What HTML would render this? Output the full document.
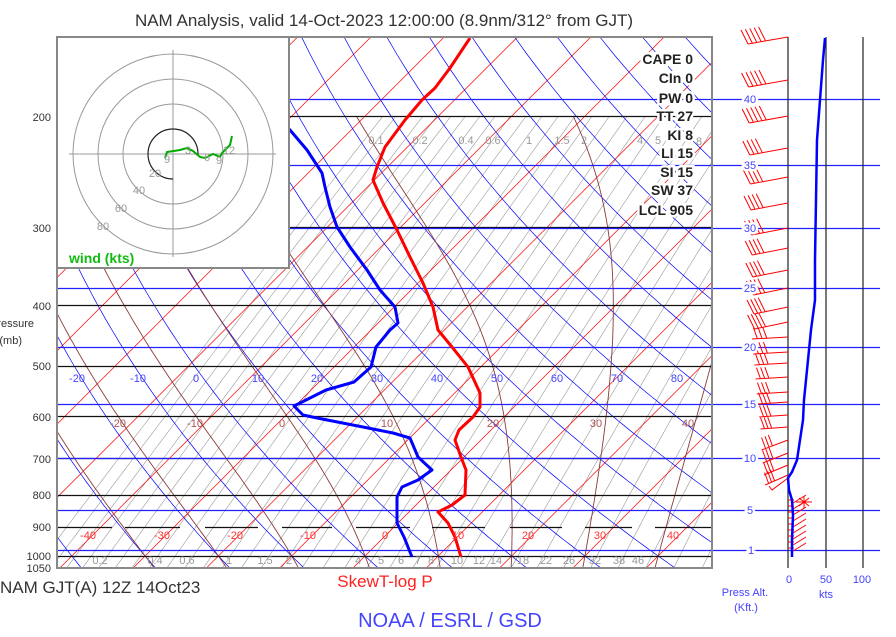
<!DOCTYPE html>
<html><head><meta charset="utf-8"><style>
html,body{margin:0;padding:0;background:#fff;}
svg{display:block;font-family:"Liberation Sans",Arial,sans-serif;}
.ax{font-size:11px;fill:#333;text-anchor:end;}
.idx{font-size:14px;font-weight:bold;fill:#222;text-anchor:end;paint-order:stroke;stroke:#fff;stroke-width:5px;}
.blab{font-size:11px;fill:#44f;text-anchor:middle;}
.rlab{font-size:11px;fill:#f33;text-anchor:middle;}
.mlab{font-size:11px;fill:#a55;text-anchor:middle;}
.glab{font-size:11px;fill:#999;text-anchor:middle;}
.alt{font-size:11px;fill:#44f;text-anchor:middle;paint-order:stroke;stroke:#fff;stroke-width:5px;}
</style></head><body>
<svg id="s" width="896" height="637" viewBox="0 0 896 637" xmlns="http://www.w3.org/2000/svg">
<defs><clipPath id="cp"><rect x="57" y="37" width="655" height="531"/></clipPath></defs>
<rect width="896" height="637" fill="#fff"/>
<g id="bg" clip-path="url(#cp)"></g>
<g id="hl"></g>
<polyline fill="none" stroke="#f00" stroke-width="3" stroke-linejoin="round" points="470,38 450,68 435,88 422,100 405,120 385,147 377,167 373,180 383,203 397,230 410,257 423,283 433,307 438,330 452,347 468,367 480,393 480,407 473,417 459,430 455,440 461,457 466,470 465,495 452,505 438,512 448,523 455,537 461,557"/>
<polyline fill="none" stroke="#00f" stroke-width="3" stroke-linejoin="round" points="277,38 280,67 283,83 278,107 278,117 290,130 307,150 322,173 325,187 330,207 337,227 350,247 367,270 380,290 395,307 398,323 390,330 376,347 371,367 354,382 326,390 294,406 303,415 317,418 363,427 393,433 410,438 418,457 432,470 418,480 402,487 397,497 397,523 404,537 412,557"/>
<rect x="57" y="37" width="232" height="231" fill="#fff" stroke="#888" stroke-width="2"/>
<g fill="none" stroke="#999" stroke-width="1">
<circle cx="173" cy="154" r="50"/><circle cx="173" cy="154" r="75"/><circle cx="173" cy="154" r="100"/>
<line x1="69" y1="154" x2="276" y2="154"/><line x1="173" y1="50" x2="173" y2="257"/>
</g>
<path d="M198,154 A25,25 0 1 0 173,179" fill="none" stroke="#222" stroke-width="1.2"/>
<text x="155" y="177" class="glab" font-size="13">20</text>
<text x="139" y="194" class="glab" font-size="13">40</text>
<text x="121" y="212" class="glab" font-size="13">60</text>
<text x="103" y="230" class="glab" font-size="13">80</text>
<polyline fill="none" stroke="#0a0" stroke-width="2" points="165,158 167,152 180,150 187,148 193,151 200,157 205,158 213,154 220,157 222,153 230,145 232,136"/>
<text x="167" y="163" class="glab" font-size="14">9</text>
<text x="188" y="154" class="glab" font-size="14">3</text>
<text x="207" y="161" class="glab" font-size="14">6</text>
<text x="219" y="164" class="glab" font-size="14">9</text>
<text x="229" y="154" class="glab" font-size="14">12</text>
<text x="69" y="263" font-size="14" font-weight="bold" fill="#1b1">wind (kts)</text>
<rect x="57" y="37" width="655" height="531" fill="none" stroke="#888" stroke-width="2"/>
<text x="693" y="64" class="idx">CAPE 0</text>
<text x="693" y="83" class="idx">CIn 0</text>
<text x="693" y="103" class="idx">PW 0</text>
<text x="693" y="121" class="idx">TT 27</text>
<text x="693" y="140" class="idx">KI 8</text>
<text x="693" y="158" class="idx">LI 15</text>
<text x="693" y="177" class="idx">SI 15</text>
<text x="693" y="195" class="idx">SW 37</text>
<text x="693" y="215" class="idx">LCL 905</text>
<g>
<text x="77" y="382" class="blab">-20</text><text x="138" y="382" class="blab">-10</text><text x="196" y="382" class="blab">0</text><text x="258" y="382" class="blab">10</text><text x="317" y="382" class="blab">20</text><text x="377" y="382" class="blab">30</text><text x="437" y="382" class="blab">40</text><text x="497" y="382" class="blab">50</text><text x="557" y="382" class="blab">60</text><text x="617" y="382" class="blab">70</text><text x="677" y="382" class="blab">80</text>
<text x="118" y="427" class="mlab">-20</text><text x="195" y="427" class="mlab">-10</text><text x="282" y="427" class="mlab">0</text><text x="387" y="427" class="mlab">10</text><text x="493" y="427" class="mlab">20</text><text x="596" y="427" class="mlab">30</text><text x="688" y="427" class="mlab">40</text>
<text x="88" y="539" class="rlab">-40</text><text x="162" y="539" class="rlab">-30</text><text x="235" y="539" class="rlab">-20</text><text x="308" y="539" class="rlab">-10</text><text x="385" y="539" class="rlab">0</text><text x="458" y="539" class="rlab">10</text><text x="528" y="539" class="rlab">20</text><text x="600" y="539" class="rlab">30</text><text x="673" y="539" class="rlab">40</text>
<text x="100" y="564" class="glab">0.2</text><text x="155" y="564" class="glab">0.4</text><text x="187" y="564" class="glab">0.6</text><text x="229" y="564" class="glab">1</text><text x="265" y="564" class="glab">1.5</text><text x="289" y="564" class="glab">2</text><text x="358" y="564" class="glab">4</text><text x="381" y="564" class="glab">5</text><text x="401" y="564" class="glab">6</text><text x="418" y="564" class="glab">7</text><text x="431" y="564" class="glab">8</text><text x="457" y="564" class="glab">10</text><text x="479" y="564" class="glab">12</text><text x="496" y="564" class="glab">14</text><text x="523" y="564" class="glab">18</text><text x="546" y="564" class="glab">22</text><text x="569" y="564" class="glab">26</text><text x="595" y="564" class="glab">32</text><text x="619" y="564" class="glab">38</text><text x="638" y="564" class="glab">46</text>
<text x="376" y="144" class="glab">0.1</text><text x="420" y="144" class="glab">0.2</text><text x="466" y="144" class="glab">0.4</text><text x="493" y="144" class="glab">0.6</text><text x="529" y="144" class="glab">1</text><text x="562" y="144" class="glab">1.5</text><text x="584" y="144" class="glab">2</text><text x="640" y="144" class="glab">4</text><text x="658" y="144" class="glab">5</text><text x="699" y="145" class="glab">8</text>
</g>
<g stroke="#222" stroke-width="1.2"><line x1="788" y1="37" x2="788" y2="568"/><line x1="826" y1="37" x2="826" y2="568"/><line x1="863" y1="37" x2="863" y2="568"/></g>
<g id="wb" stroke="#f00" stroke-width="1" fill="none"></g>
<polyline fill="none" stroke="#00f" stroke-width="2.5" points="825,38 823,60 820,100 817,140 816,200 815,260 815,300 811,330 807,370 804,400 803,420 800,440 797,460 792,472 788,478 789,490 792,500 793,515 792,540 792,557"/>
<text x="750" y="103" class="alt">40</text><text x="750" y="169" class="alt">35</text><text x="750" y="232" class="alt">30</text><text x="750" y="292" class="alt">25</text><text x="750" y="351" class="alt">20</text><text x="750" y="408" class="alt">15</text><text x="750" y="462" class="alt">10</text><text x="750" y="514" class="alt">5</text><text x="751" y="554" class="alt">1</text>
<text x="789" y="583" class="blab">0</text><text x="826" y="583" class="blab">50</text><text x="862" y="583" class="blab">100</text>
<text x="826" y="598" class="blab">kts</text>
<text x="745" y="596" class="blab">Press Alt.</text><text x="746" y="611" class="blab">(Kft.)</text>
<text x="51" y="121" class="ax">200</text><text x="51" y="232" class="ax">300</text><text x="51" y="310" class="ax">400</text><text x="51" y="370" class="ax">500</text><text x="51" y="421" class="ax">600</text><text x="51" y="463" class="ax">700</text><text x="51" y="499" class="ax">800</text><text x="51" y="531" class="ax">900</text><text x="51" y="560" class="ax">1000</text><text x="51" y="572" class="ax">1050</text>
<text x="34" y="327" class="ax" font-size="10">Pressure</text><text x="22" y="344" class="ax" font-size="10">(mb)</text>
<text x="384" y="26" font-size="17" fill="#333" text-anchor="middle">NAM Analysis, valid 14-Oct-2023 12:00:00 (8.9nm/312° from GJT)</text>
<text x="0" y="593" font-size="17" fill="#333">NAM GJT(A) 12Z 14Oct23</text>
<text x="385" y="587" font-size="17" fill="#f22" text-anchor="middle">SkewT-log P</text>
<text x="450" y="627" font-size="20" fill="#44f" text-anchor="middle">NOAA / ESRL / GSD</text>
</svg>
<script>
(function(){
var NS="http://www.w3.org/2000/svg";
function el(par,tag,at){var e=document.createElementNS(NS,tag);for(var k in at)e.setAttribute(k,at[k]);par.appendChild(e);return e;}
var bg=document.getElementById("bg"),hl=document.getElementById("hl"),wb=document.getElementById("wb");
function Y(p){return 556+273.4*Math.log(p/1000);}
function X(T,y){return 394+7.33*T+(527-y);}
function pl(par,pts,col,w){var s=pts.map(function(a){return a[0].toFixed(1)+","+a[1].toFixed(1);}).join(" ");el(par,"polyline",{points:s,fill:"none",stroke:col,"stroke-width":w});}
for(var k=0;k<32;k++){var w=0.08*Math.exp(k*0.22);var pts=[];
 for(var p=1050;p>=200;p-=25){var e=w*p/(622+w);var l=Math.log(e/6.112);var Td=243.5*l/(17.67-l);var y=Y(p);pts.push([X(Td,y),y]);}
 pl(bg,pts,"#999",0.6);}
for(var T=-140;T<=60;T+=10){pl(bg,[[X(T,568),568],[X(T,37),37]],"#f00",0.7);}
for(var th=-50;th<=220;th+=10){var pts=[];for(var p=1050;p>=150;p-=10){var T=(th+273.15)*Math.pow(p/1000,0.2857)-273.15;var y=Y(p);pts.push([X(T,y),y]);}pl(bg,pts,"#00f",0.7);}
function rs(T,p){var es=6.112*Math.exp(17.67*(T-273.15)/(T-29.65));return 0.622*es/(p-es);}
function dTdp(T,p){var r=rs(T,p),Rd=287,L=2.5e6,cp=1005;return (Rd*T+L*r)/(p*(cp+L*L*r*0.622/(Rd*T*T)));}
for(var tw=-30;tw<=40;tw+=10){var T=tw+273.15,pts=[];
 for(var q=1000;q<1050;q+=1){T+=dTdp(T,q);}
 for(var p=1050;p>=200;p-=1){if(p%10==0){var y=Y(p);pts.push([X(T-273.15,y),y]);}T-=dTdp(T,p);}
 pl(bg,pts,"#8b3a3a",0.9);}
[200,300,400,500,600,700,800,1000].forEach(function(p){var y=Math.round(Y(p))+0.5;el(hl,"line",{x1:57,y1:y,x2:712,y2:y,stroke:"#111","stroke-width":1.2});});
var y9=Math.round(Y(900))+0.5;[[57,112],[125,180],[205,258],[282,332],[356,410],[432,485],[510,562],[585,632],[655,712]].forEach(function(s){el(hl,"line",{x1:s[0],y1:y9,x2:s[1],y2:y9,stroke:"#111","stroke-width":1.2});});
[99,165,228,288,347,404,458,510,550].forEach(function(y){el(hl,"line",{x1:57,y1:y+0.5,x2:880,y2:y+0.5,stroke:"#22f","stroke-width":1.2});});
var up=[37,80,116,148,177,203,228,248,270,288,307,322];
up.forEach(function(y,i){var tx=748+i*0.6,ty=y+7;el(wb,"line",{x1:788,y1:y,x2:tx,y2:ty});
 var nb=(i<3)?5:4;for(var j=0;j<nb;j++){var t=j*0.11;var bx=tx+(788-tx)*t,by=ty+(y-ty)*t;el(wb,"line",{x1:bx,y1:by,x2:bx-7,y2:by-14});}});
var mid=[337,352,363,377,392,402,415,427,440,453,465,475];
mid.forEach(function(y,i){var tx=752+i*1.2,ty=y+(i>7?10:2);el(wb,"line",{x1:788,y1:y,x2:tx,y2:ty});
 for(var j=0;j<3;j++){var t=0.15+j*0.13;var bx=tx+(788-tx)*t,by=ty+(y-ty)*t;el(wb,"line",{x1:bx,y1:by,x2:bx-4,y2:by-11});}});
el(wb,"polyline",{points:"788,478 772,490 769,486"});
for(var y=500;y<=552;y+=6){el(wb,"line",{x1:788,y1:y,x2:794,y2:y});el(wb,"line",{x1:793,y1:y+3,x2:806,y2:y-5});}
el(wb,"path",{d:"M799,498 L809,506 M809,498 L799,506 M804,496 L804,508 M796,502 L812,502"});
})();
</script>
</body></html>
